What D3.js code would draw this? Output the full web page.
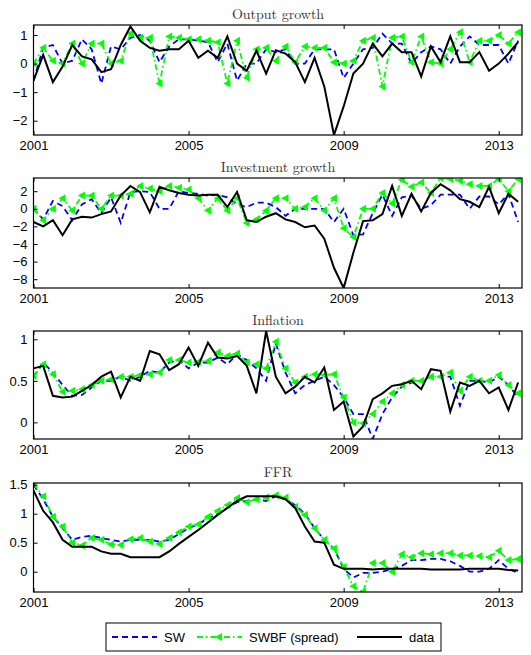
<!DOCTYPE html>
<html><head><meta charset="utf-8">
<script src="https://cdn.jsdelivr.net/npm/d3@7"></script>
<style>body{margin:0;background:#fff}svg{display:block}</style>
</head><body><svg id="c" width="531" height="655"></svg>
<script>
const years = d3.range(51).map(i => 2001 + i * 0.25);
const xTicks = [2001, 2005, 2009, 2013];

const outData = [-0.6,0.3,-0.65,-0.1,0.65,0.25,0.15,-0.3,-0.2,0.65,1.3,0.8,0.55,0.45,0.5,0.5,0.8,0.2,0.45,0.2,0.95,0,-0.25,0.45,-0.35,0.47,0.35,0.05,-0.65,0.2,-0.8,-2.5,-1.5,-0.35,0,0.7,0.25,0.7,0.4,0.4,-0.45,0.6,0.05,0.95,0.05,0.05,0.4,-0.25,0,0.35,0.75];
const outSW = [-0.6,0.55,0.65,0,0.1,0.85,0.5,-0.7,0.6,0.5,0.9,1.0,0.8,0.05,0.6,0.85,0.85,0.8,0.75,0.05,0.7,-0.6,0,0,0.5,0.4,0.5,0,0,0.5,0.5,0.5,-0.5,0,0.5,0.55,1.05,0.7,0.7,0,0.4,0.6,0.5,0,0.6,0.95,0.65,0.65,0.65,0,0.8];
const outBF = [0,0.55,0.1,0,0.7,0,0.7,0.7,0,0.1,1.05,0.9,0.9,-0.7,0.95,0.9,0.85,0.85,0.8,0.75,-0.7,0.8,-0.5,0.5,0.55,0.1,0.6,0.05,0.6,0.55,0.55,0.05,0,0.1,0.8,0.9,-0.8,0.9,0.95,0.05,0.95,0.05,0,0.5,1.1,0.05,0.8,0.8,1.0,0.7,1.1];

const invData = [-1.5,-2,-1.3,-3,-1.2,-0.9,-1,-0.6,-0.3,1.5,2.6,1.9,-0.4,2.5,2.1,1.8,1.6,1.5,1.6,1.6,0.2,1.9,-1.3,-1.5,-0.9,-0.5,-1.2,-1.5,-2.1,-1.9,-3.4,-6.7,-9,-5,-1.4,-1.3,-0.6,2.6,-0.8,1.7,-0.3,1.8,2.8,2.1,1.1,0.8,0.2,2.5,-0.5,1.7,0.8];
const invSW = [0,-1.2,0.9,0.3,-1.3,0.5,1.1,-0.5,1.3,-1.6,1.9,2.0,1.9,0,0,2,1.8,1.7,1.5,1.6,1.3,0.5,0.2,0.7,0.7,0.2,-0.8,0,0,0,0,-1.5,0,-3,-2.9,-0.5,1.6,-0.8,1.3,1.5,0,0.4,1.6,1.6,1.6,0,1.4,1.4,0.5,1.7,-1.5];
const invBF = [0,-1.3,0,1.2,-0.2,1.5,1.5,0,1.5,1.5,1.7,2.6,2.3,2.0,2.6,2.4,2.2,1.2,-0.2,1.2,-0.2,1.2,-1.6,-1.2,-0.2,1.2,1.2,0,0.2,1.2,-0.2,1.2,-2.2,-3.2,0,0,1.8,0.6,3.3,2.5,3.0,1.8,3.5,3.4,3.2,2.8,2.6,2.6,3.4,2.0,3.4];

const infData = [0.65,0.68,0.32,0.3,0.31,0.38,0.45,0.55,0.61,0.3,0.55,0.5,0.86,0.82,0.63,0.7,0.9,0.68,0.96,0.78,0.77,0.8,0.68,0.35,1.1,0.55,0.35,0.43,0.55,0.48,0.66,0.15,0.25,-0.17,-0.05,0.28,0.35,0.44,0.46,0.5,0.4,0.64,0.62,0.13,0.48,0.44,0.5,0.35,0.42,0.15,0.48];
const infSW = [0.55,0.72,0.6,0.45,0.32,0.33,0.42,0.5,0.5,0.55,0.5,0.55,0.62,0.6,0.72,0.75,0.65,0.72,0.72,0.78,0.7,0.82,0.75,0.65,0.5,0.95,0.6,0.35,0.45,0.5,0.55,0.45,0.3,0.1,0.1,-0.2,0.1,0.3,0.43,0.48,0.5,0.55,0.55,0.55,0.2,0.5,0.5,0.48,0.55,0.45,0.3];
const infBF = [0.56,0.7,0.58,0.37,0.38,0.4,0.45,0.5,0.52,0.55,0.55,0.57,0.58,0.6,0.75,0.75,0.72,0.73,0.74,0.84,0.8,0.83,0.72,0.7,0.65,0.97,0.65,0.48,0.55,0.58,0.57,0.58,0.3,0,-0.01,0.1,0.25,0.35,0.45,0.5,0.5,0.55,0.55,0.6,0.38,0.55,0.5,0.5,0.57,0.45,0.35];

const ffrData = [1.4,1.05,0.85,0.55,0.43,0.43,0.43,0.35,0.31,0.31,0.25,0.25,0.25,0.25,0.35,0.48,0.6,0.72,0.85,0.98,1.1,1.22,1.3,1.3,1.3,1.3,1.25,1.1,0.78,0.52,0.5,0.12,0.05,0.05,0.05,0.04,0.05,0.05,0.05,0.05,0.05,0.04,0.04,0.04,0.04,0.05,0.05,0.05,0.05,0.03,0.02];
const ffrSW = [1.5,1.25,0.95,0.75,0.55,0.6,0.62,0.58,0.55,0.52,0.55,0.55,0.55,0.52,0.55,0.65,0.75,0.82,0.92,1.0,1.1,1.2,1.22,1.25,1.22,1.3,1.25,1.15,1.0,0.75,0.55,0.4,0.05,-0.1,-0.02,-0.02,0.0,0.05,0.1,0.2,0.2,0.22,0.22,0.18,0.1,0.0,0.0,0.05,0.2,0.05,-0.02];
const ffrBF = [1.52,1.3,0.95,0.78,0.5,0.45,0.58,0.55,0.47,0.46,0.56,0.58,0.52,0.48,0.58,0.68,0.78,0.82,0.95,1.05,1.15,1.27,1.2,1.25,1.28,1.32,1.28,1.12,0.98,0.75,0.55,0.4,0.08,-0.25,-0.35,0.15,0.15,0.0,0.3,0.25,0.32,0.3,0.32,0.32,0.28,0.28,0.27,0.25,0.36,0.2,0.22];

const panels = [
  {title:'Output growth', top:25, bottom:135, domain:[-2.5,1.35], ticks:[-2,-1,0,1], fmt:d3.format('d'), data:outData, sw:outSW, bf:outBF},
  {title:'Investment growth', top:178, bottom:288, domain:[-9,3.5], ticks:[-8,-6,-4,-2,0,2], fmt:d3.format('d'), data:invData, sw:invSW, bf:invBF},
  {title:'Inflation', top:331, bottom:439, domain:[-0.2,1.1], ticks:[0,0.5,1], fmt:d=>String(d), data:infData, sw:infSW, bf:infBF},
  {title:'FFR', top:483, bottom:592, domain:[-0.35,1.53], ticks:[0,0.5,1,1.5], fmt:d=>String(d), data:ffrData, sw:ffrSW, bf:ffrBF}
];

const svg = d3.select('#c');
const left = 33.5, right = 522;
const x = d3.scaleLinear().domain([2001, 2013.6]).range([left, right]);
const tickFont = '"Liberation Sans", Arial, sans-serif';
const tri = 'M-4,0L3,-4L3,4Z';

panels.forEach((p, k) => {
  const y = d3.scaleLinear().domain(p.domain).range([p.bottom, p.top]);
  const g = svg.append('g');
  const clipId = 'clip' + k;
  svg.append('clipPath').attr('id', clipId).append('rect')
    .attr('x', left).attr('y', p.top).attr('width', right - left).attr('height', p.bottom - p.top);

  g.append('text').attr('x', 278).attr('y', p.top - 6).attr('text-anchor', 'middle')
    .style('font-family', '"Latin Modern Roman","DejaVu Serif",serif').style('font-size', '14px')
    .attr('fill', '#333').text(p.title);

  const lineGen = d3.line().x((d, i) => x(years[i])).y(d => y(d));
  const plot = g.append('g').attr('clip-path', `url(#${clipId})`);
  plot.append('path').attr('d', lineGen(p.sw)).attr('fill', 'none')
    .attr('stroke', '#0000ff').attr('stroke-width', 1.8).attr('stroke-dasharray', '6,4');
  plot.append('path').attr('d', lineGen(p.bf)).attr('fill', 'none')
    .attr('stroke', '#00ff00').attr('stroke-width', 1.8).attr('stroke-dasharray', '6,3,1.5,3');
  plot.selectAll('path.m').data(p.bf).enter().append('path').attr('class', 'm')
    .attr('d', tri).attr('fill', '#00ff00')
    .attr('transform', (d, i) => `translate(${x(years[i])},${y(d)})`);
  plot.append('path').attr('d', lineGen(p.data)).attr('fill', 'none')
    .attr('stroke', '#000').attr('stroke-width', 2);

  const ax = g.append('g').attr('transform', `translate(0,${p.bottom})`)
    .call(d3.axisBottom(x).tickValues(xTicks).tickFormat(d3.format('d')).tickSizeInner(-4).tickSizeOuter(0).tickPadding(6));
  const ax2 = g.append('g').attr('transform', `translate(0,${p.top})`)
    .call(d3.axisTop(x).tickValues(xTicks).tickFormat('').tickSizeInner(-4).tickSizeOuter(0));
  const ay = g.append('g').attr('transform', `translate(${left},0)`)
    .call(d3.axisLeft(y).tickValues(p.ticks).tickFormat(p.fmt).tickSizeInner(-4).tickSizeOuter(0).tickPadding(6));
  [ax, ax2, ay].forEach(a => {
    a.select('.domain').remove();
    a.selectAll('text').style('font-family', tickFont).style('font-size', '13px').attr('fill', '#000');
  });
  g.append('rect').attr('x', left).attr('y', p.top).attr('width', right - left).attr('height', p.bottom - p.top)
    .attr('fill', 'none').attr('stroke', '#000').attr('stroke-width', 1.2);
});

// legend
const lg = svg.append('g');
lg.append('rect').attr('x', 106).attr('y', 623).attr('width', 335).attr('height', 28)
  .attr('fill', '#fff').attr('stroke', '#000').attr('stroke-width', 1);
const ly = 637;
const items = [
  {label:'SW', x0:112, color:'#0000ff', dash:'6,4'},
  {label:'SWBF (spread)', x0:197, color:'#00ff00', dash:'6,3,1.5,3', marker:true},
  {label:'data', x0:357, color:'#000', dash:null}
];
items.forEach(it => {
  lg.append('line').attr('x1', it.x0).attr('x2', it.x0 + 45).attr('y1', ly).attr('y2', ly)
    .attr('stroke', it.color).attr('stroke-width', 1.8).attr('stroke-dasharray', it.dash);
  if (it.marker) lg.append('path').attr('d', tri).attr('fill', it.color)
    .attr('transform', `translate(${it.x0 + 22},${ly})`);
  lg.append('text').attr('x', it.x0 + 52).attr('y', ly + 5).text(it.label)
    .style('font-family', tickFont).style('font-size', '13px');
});
</script></body></html>
